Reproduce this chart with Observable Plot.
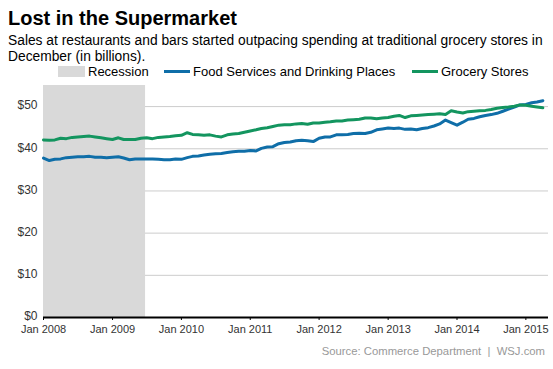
<!DOCTYPE html>
<html><head><meta charset="utf-8">
<script src="https://cdn.jsdelivr.net/npm/d3@7"></script>
<script src="https://cdn.jsdelivr.net/npm/@observablehq/plot@0.6"></script>
<style>
body{margin:0;background:#fff;font-family:Arial,"Liberation Sans",sans-serif;}
#wrap{position:relative;width:553px;height:369px;overflow:hidden;background:#fff;}
#title{position:absolute;left:8px;top:6px;font-size:20px;line-height:24px;font-weight:bold;color:#000;white-space:nowrap;}
#sub{position:absolute;left:8px;top:33px;font-size:13.8px;line-height:16px;color:#000;width:548px;}
.item{position:absolute;top:63px;height:16px;display:flex;align-items:center;font-size:13px;color:#000;white-space:nowrap;}
.sw{display:inline-block;margin-right:3px;}
#chart{position:absolute;left:0;top:80px;}
#source{position:absolute;right:8px;top:345px;font-size:11.3px;color:#999;white-space:nowrap;}
</style></head>
<body>
<div id="wrap">
  <div id="title">Lost in the Supermarket</div>
  <div id="sub">Sales at restaurants and bars started outpacing spending at traditional grocery stores in December (in billions).</div>
  <div id="legend"></div>
  <div id="chart"></div>
  <div id="source">Source: Commerce Department&nbsp; |&nbsp; WSJ.com</div>
</div>
<script>
const seriesNames = ["Recession", "Food Services and Drinking Places", "Grocery Stores"];
const seriesColors = ["#d9d9d9", "#0f6ea8", "#13955f"];
const firstMonth = "2008-01-01";
const foodServices = [
  37.8,37.2,37.5,37.6,37.9,38.0,38.1,38.1,38.2,38.0,38.0,37.9,
  38.0,38.1,37.8,37.4,37.6,37.6,37.6,37.6,37.5,37.4,37.4,37.6,
  37.5,37.9,38.2,38.3,38.5,38.7,38.8,38.9,39.1,39.3,39.4,39.4,
  39.6,39.5,40.1,40.4,40.5,41.2,41.5,41.6,41.9,42.0,41.9,41.7,
  42.5,42.8,42.8,43.3,43.3,43.4,43.6,43.7,43.6,43.9,44.5,44.7,
  44.9,44.8,44.9,44.6,44.7,44.5,44.8,45.0,45.4,45.9,46.8,46.2,
  45.6,46.3,47.0,47.2,47.6,47.9,48.1,48.4,48.9,49.4,49.9,50.4,
  50.5,50.9,51.1,51.4
];
const groceryStores = [
  42.1,42.0,42.1,42.5,42.4,42.7,42.8,42.9,43.0,42.8,42.6,42.4,
  42.2,42.6,42.2,42.2,42.2,42.5,42.6,42.4,42.7,42.8,42.9,43.1,
  43.2,43.8,43.4,43.3,43.2,43.3,43.0,42.8,43.3,43.5,43.6,43.9,
  44.2,44.5,44.8,45.0,45.3,45.6,45.7,45.7,45.9,46.0,45.8,46.1,
  46.1,46.3,46.4,46.6,46.6,46.8,46.9,47.0,47.3,47.3,47.1,47.3,
  47.4,47.7,47.9,47.4,47.8,47.9,48.0,48.1,48.2,48.3,48.1,49.0,
  48.7,48.5,48.8,48.9,49.0,49.1,49.3,49.6,49.8,49.9,50.1,50.4,
  50.3,50.1,49.9,49.7
];
const recessionStart = "2008-01-01";
const recessionEnd = "2009-06-25";
const yTicks = [0, 10, 20, 30, 40, 50];
const xTickLabels = ["2008-01-01","2009-01-01","2010-01-01","2011-01-01","2012-01-01","2013-01-01","2014-01-01","2015-01-01"];

const start = new Date(firstMonth);
const rows = foodServices.map((v, i) => ({date: d3.utcMonth.offset(start, i), food: v, grocery: groceryStores[i]}));
const xTicks = xTickLabels.map(d => new Date(d));

// legend
const leg = document.getElementById("legend");
leg.innerHTML =
  `<div class="item" style="left:58px"><span class="sw" style="width:27px;height:11px;background:${seriesColors[0]}"></span>${seriesNames[0]}</div>` +
  `<div class="item" style="left:164px"><span class="sw" style="width:26px;height:3px;background:${seriesColors[1]}"></span>${seriesNames[1]}</div>` +
  `<div class="item" style="left:412px"><span class="sw" style="width:26px;height:3px;background:${seriesColors[2]}"></span>${seriesNames[2]}</div>`;

const chart = Plot.plot({
  width: 553, height: 262,
  marginTop: 5, marginBottom: 25, marginLeft: 43, marginRight: 5,
  style: {fontFamily: "Arial, 'Liberation Sans', sans-serif", fontSize: "12px", color: "#333", background: "transparent", overflow: "visible"},
  x: {type: "utc", domain: [new Date("2008-01-01"), new Date("2015-05-01")], label: null},
  y: {domain: [0, 55], label: null},
  marks: [
    Plot.ruleY(yTicks.filter(d => d > 0), {stroke: "#cccccc", strokeWidth: 1}),
    Plot.rect([{s: new Date(recessionStart), e: new Date(recessionEnd)}], {x1: "s", x2: "e", fill: seriesColors[0]}),
    Plot.line(rows, {x: "date", y: "food", stroke: seriesColors[1], strokeWidth: 3, strokeLinejoin: "round"}),
    Plot.line(rows, {x: "date", y: "grocery", stroke: seriesColors[2], strokeWidth: 3, strokeLinejoin: "round"}),
    Plot.ruleY([0], {stroke: "#000", strokeWidth: 2}),
    Plot.axisX({ticks: xTicks, tickFormat: d3.utcFormat("Jan %Y"), tickSize: 3, tickPadding: 5, fontSize: 11, stroke: "#000", label: null}),
    Plot.axisY({ticks: yTicks, tickFormat: d => "$" + d, tickSize: 0, tickPadding: 6, fontSize: 12, dy: -1, label: null})
  ]
});
document.getElementById("chart").appendChild(chart);
</script>
</body></html>
